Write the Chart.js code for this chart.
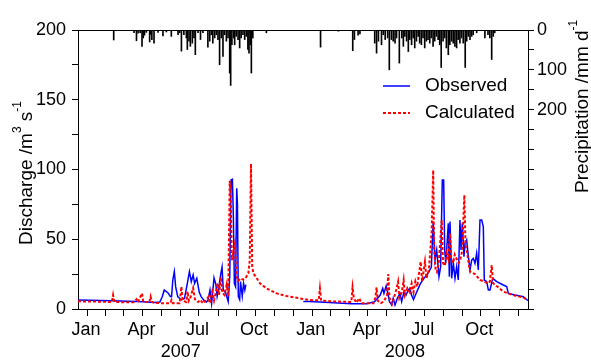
<!DOCTYPE html>
<html><head><meta charset="utf-8">
<script src="https://cdn.jsdelivr.net/npm/chart.js@4.4.1/dist/chart.umd.min.js"></script>
<style>html,body{margin:0;padding:0;background:#fff}canvas{display:block}</style>
</head><body>
<canvas id="c" width="591" height="362"></canvas>
<script>
// ---- axis categories (days since 1 Jan 2007) ----
const monthStartDays = [0,31,59,90,120,151,181,212,243,273,304,334,365,396,425,456,486,517,547,578,609,639,670,700,731];
const monthLabels = ['Jan','','','Apr','','','Jul','','','Oct','','','Jan','','','Apr','','','Jul','','','Oct','','',''];
const yearLabels = ['2007','2008'];
const yearLabelDays = [167, 531];
const seriesNames = ['Observed','Calculated'];

// ---- observed discharge (m3/s) ----
const obsDays = [0,20,54,80,97,125,133,137,140,146,150,152,154,156.5,158.6,162,168,173,177.6,181,184,187,189.5,193,197,200,205,208.5,211,214.4,217,221,224,226,229,231.7,234,236,240,244,246.5,248.6,250.8,252.4,254,256,257.8,259,260.4,262.6,264,266.8,269,271,272.7,
  320,
  366,376,393,415,444.6,469,482,491,495,497,500.6,503,506,509.5,512,515,518.7,523,525.7,529.6,532.8,536.6,539,541.8,545,550,556,562,568,574,
  577,580,582.7,586.4,589.1,591.8,594,595.7,597.3,598.9,601.5,603.2,604.3,607,609.7,612.4,615.1,617.8,620.5,622.2,624.3,627,628.7,631.4,634.1,636.8,639.5,642.2,644.9,647.6,650.3,653,655.8,658.4,660,663.9,666.6,669.3,673.7,680.2,690.9,696.4,699,710,723.4,731];
const obsValues = [6.5,6.3,6.0,5.6,5.3,4.6,5.0,9,13.6,11.7,9,8.9,20.8,26.8,16,8.9,6.5,7.6,18.4,26.8,19.6,24.4,18.4,22,12,8.9,6,5,6,13.6,3.9,22.3,17.5,9.1,16.1,24.4,30,13.6,11.2,5.3,23.2,92.5,93,66,18.4,16,86.5,75,9.1,6.7,19.6,9.1,18.4,13.6,17.5,
  null,
  5.3,5.3,5.0,4.5,3.7,3.7,5.3,10,14.8,11.2,16.5,12,5.3,2.9,7.7,2.9,7.7,11.2,5.3,12.4,10,13.6,14.8,10,6.7,12,18,22,25,30,
  62.7,35,42.3,23.2,30.3,92.5,92.5,42.3,33,42.3,61.4,23.2,62.7,22,32.9,22,30.3,20.8,63.8,42.3,61.4,37.5,47,49.5,37.5,28,35,36.3,32.7,40,28,63.8,63.8,59,20.8,19.6,13.6,13.6,22,19.6,17.2,16.1,11.2,10,8.8,6];

// ---- calculated discharge (m3/s) ----
const calDays = [0,30,55,57,59,90,95,97,104,106,116,118,120,128,140,150,152,154,165,168,170,176,178,180,183,187,190,195,199,203,207,212,214,218,221,227,229,232,234,238,241.5,244,246.5,248,250,252,255,257,260,264,268,272,276.7,279,281,283,285,295.6,306.5,322.7,339,360.6,
  377,391,393,395,410,425,444,446,448,452,457,460,480,483,485,487,492,497,502,504,506,510,514,517,520,522,526,529,531,535,539,542,545,548,551,556.6,559,563.6,566,570,574.5,577,578.5,581,583,586,590.8,593,596,599,601.5,604.3,606,609.5,612,615,618,620.5,624,627.6,629.5,631.4,636.8,645,653,660,666,669,672,674.5,681,691,702,712,723,731];
const calValues = [5.5,5.3,5.0,10,5.0,4.8,7,4.8,11.2,5,5,8.9,5,4.3,4.1,4.2,6.5,4.2,4.1,16,6,5,12.5,6,8.6,15,7,5,6.5,4,6,8.9,4.1,12.5,6,18.4,10,23,12,10,17.5,9,92,80,35,40,47,25,20,22,21,22,25.5,35,104,30,25.6,18.4,14.7,11.2,9.3,7.6,
  6.4,6.2,14.8,6.0,5.5,5.3,5.0,15.5,8,4.5,7.7,4.2,4.2,8,15.5,6,4.2,5.5,10,25,8,3.5,9,14,19.6,8,12,20.8,10,15,12,18.4,12,20,16,34,20,34,22,28,55.4,99.6,42.3,28,26.5,33,63.8,33,31,39.9,36,54.3,36.5,33,39,36,33,34.5,41.5,81.7,45,42.3,26.8,25,20.8,19.6,18.4,19.6,31.5,18.4,16.1,12.4,10.7,9.3,8.4,6.3];

// ---- precipitation (mm/d) ----
const rainDays = [58,91,95,97.5,101,104,106,108,111,116.4,118,120,123.5,130,138,143.5,151.6,162.5,165,168,172,176,177.6,180.3,182.5,185.7,188.4,190.6,195,199,203,211,214,216.6,219,222,224.7,227.4,230,232.8,235.5,238,241,243.7,246.4,248,250,253,254.5,257,260,262.6,265,268,270.8,273.5,276,277.8,280,281.6,284,306,
  394,423,446.3,449,455,458,482,485,488,493,496,499,503,505.7,509,512,515,517.5,522,526,528.5,531,533.8,536.6,539,541.9,544.5,547,549.8,552.5,555,557.8,560.5,563.2,565.9,568.6,571.4,574,576.8,579.5,582.2,585,587.6,590,593,595.7,598.4,601.5,604,606.8,609.5,612.3,615,617.6,620.4,623,625.8,629,631.4,634,636.8,639.5,642,647.6,661,666,669,672,674.6,677];
const rainValues = [25,7,27,8,7,41,20,13,6,30,11,24,33,6,15,5,16,12,7,53,12,20,49,28,41,33,20,62,7,24,7,43,28,12,33,20,12,24,87,20,66,12,28,20,108,139,37,20,37,16,24,45,20,12,24,16,49,58,37,108,20,7,
  43,3,52,24,13,10,33,58,28,37,12,24,20,100,24,28,33,20,83,20,41,16,28,54,24,37,20,45,28,16,33,37,20,45,28,24,33,20,41,28,16,24,37,94,28,20,45,62,37,28,33,41,45,24,33,20,33,94,28,16,24,16,12,7,20,12,20,74,16,7];

const FONT = "'Liberation Sans', Arial, sans-serif";
const toXY = (d, v) => d.map((x, i) => ({x: x, y: v[i]}));

const decor = {
  id: 'decor',
  afterDraw(chart) {
    const ctx = chart.ctx, ca = chart.chartArea, xs = chart.scales.x;
    ctx.save();
    // top frame line
    ctx.strokeStyle = '#000'; ctx.lineWidth = 1;
    ctx.beginPath(); ctx.moveTo(ca.left, ca.top + 0.5); ctx.lineTo(ca.right, ca.top + 0.5); ctx.stroke();
    // year labels
    ctx.fillStyle = '#000';
    ctx.font = '18px ' + FONT; ctx.textAlign = 'center'; ctx.textBaseline = 'middle';
    yearLabels.forEach((t, i) => ctx.fillText(t, xs.getPixelForValue(yearLabelDays[i]), 352));
    // rotated titles with superscripts
    const rot = (x, y, parts) => {
      ctx.save(); ctx.translate(x, y); ctx.rotate(-Math.PI / 2);
      ctx.textAlign = 'left'; ctx.textBaseline = 'alphabetic';
      let cx = 0;
      parts.forEach(p => {
        ctx.font = (p.sup ? '12px ' : '19px ') + FONT;
        ctx.fillText(p.t, cx, p.sup ? -11 : 0);
        cx += ctx.measureText(p.t).width;
      });
      ctx.restore();
    };
    rot(32, 245, [{t: 'Discharge /m'}, {t: '3', sup: true}, {t: ' s'}, {t: '-1', sup: true}]);
    rot(588, 193, [{t: 'Precipitation /mm d'}, {t: '-1', sup: true}]);
    // legend
    const items = [{y: 86, c: '#0000ff', dash: [], w: 1.5}, {y: 113, c: '#ff0000', dash: [3, 2], w: 2}];
    items.forEach((it, i) => {
      ctx.strokeStyle = it.c; ctx.lineWidth = it.w; ctx.setLineDash(it.dash);
      ctx.beginPath(); ctx.moveTo(383, it.y); ctx.lineTo(410, it.y); ctx.stroke();
      ctx.setLineDash([]);
      ctx.fillStyle = '#000'; ctx.font = '19px ' + FONT; ctx.textAlign = 'left'; ctx.textBaseline = 'middle';
      ctx.fillText(seriesNames[i], 425, it.y);
    });
    ctx.restore();
  }
};

new Chart(document.getElementById('c'), {
  type: 'line',
  data: {
    datasets: [
      {type: 'bar', label: 'Precipitation', data: toXY(rainDays, rainValues), xAxisID: 'x', yAxisID: 'y2',
       backgroundColor: '#000', borderWidth: 0, barThickness: 1, grouped: false, order: 3},
      {label: seriesNames[0], data: toXY(obsDays, obsValues), borderColor: '#0000ff', borderWidth: 1.5,
       pointRadius: 0, tension: 0, spanGaps: false, fill: false, yAxisID: 'y', order: 2},
      {label: seriesNames[1], data: toXY(calDays, calValues), borderColor: '#ff0000', borderWidth: 2, borderDash: [3, 2],
       pointRadius: 0, tension: 0, fill: false, yAxisID: 'y', order: 1}
    ]
  },
  options: {
    responsive: false, animation: false, devicePixelRatio: 1,
    layout: {padding: {top: 30, left: 0, right: 0, bottom: 0}},
    plugins: {legend: {display: false}, tooltip: {enabled: false}},
    scales: {
      x: {type: 'linear', min: 0, max: 731, offset: false, position: 'bottom',
        grid: {drawOnChartArea: false, drawTicks: true, tickLength: 7, color: '#000', tickColor: '#000'},
        border: {display: true, color: '#000', width: 1},
        afterBuildTicks: s => { s.ticks = monthStartDays.map(v => ({value: v})); },
        ticks: {autoSkip: false, maxRotation: 0, minRotation: 0, padding: 3, labelOffset: 8, color: '#000',
          font: {family: FONT, size: 18}, callback: (v, i) => monthLabels[i] || ''},
        afterFit: s => { s.height = 53; }
      },
      y: {type: 'linear', position: 'left', min: 0, max: 200,
        grid: {drawOnChartArea: false, drawTicks: true, tickLength: 6, color: '#000', tickColor: '#000'},
        border: {display: true, color: '#000', width: 1},
        ticks: {stepSize: 25, autoSkip: false, padding: 6, color: '#000', font: {family: FONT, size: 18},
          callback: v => (v % 50 === 0 ? String(v) : '')},
        afterFit: s => { s.width = 78; }
      },
      y2: {type: 'linear', position: 'right', min: 0, max: 700, reverse: true,
        grid: {drawOnChartArea: false, drawTicks: true, tickLength: 6, color: '#000', tickColor: '#000'},
        border: {display: true, color: '#000', width: 1},
        ticks: {stepSize: 50, autoSkip: false, padding: 3, color: '#000', font: {family: FONT, size: 18},
          callback: v => (v <= 200 && v % 100 === 0 ? String(v) : '')},
        afterFit: s => { s.width = 63; }
      }
    }
  },
  plugins: [decor]
});
</script>
</body></html>
